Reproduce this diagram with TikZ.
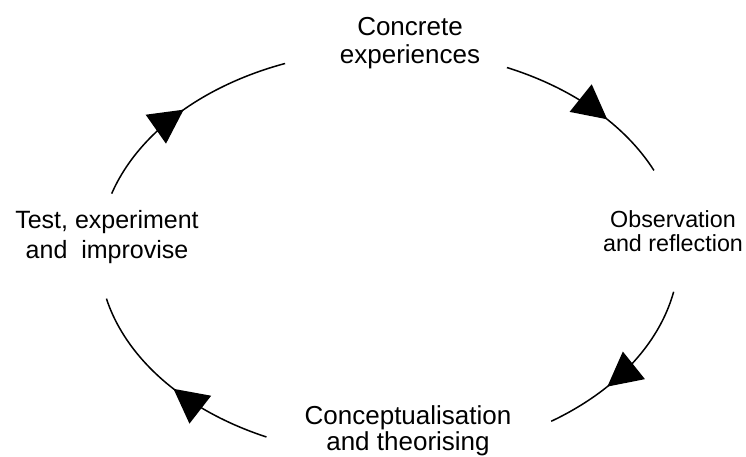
\documentclass[tikz,border=0pt]{standalone}
\usepackage{fontspec}
\setmainfont{Liberation Sans}
\usetikzlibrary{arrows.meta,decorations.markings,calc}
\begin{document}
\begin{tikzpicture}[x=1pt,y=1pt,
  stage/.style={align=center, inner sep=0pt},
  cycarc/.style={line width=1.5pt, black},
  flowtip/.style={postaction={decorate},
    decoration={markings,
      mark=at position #1 with {\arrow{Triangle[length=34pt,width=35pt]}}}}]
\useasboundingbox (0,0) rectangle (746,456);

% the four stages of the learning cycle
\node[stage, font=\fontsize{26}{28.5}\selectfont] (concrete) at (410,412.8) {Concrete\\experiences};
\node[stage, font=\fontsize{23.3}{23.5}\selectfont] (observe) at (673,225) {Observation\\and reflection};
\node[stage, font=\fontsize{26}{26}\selectfont] (concept) at (408,25) {Conceptualisation\\and theorising};
\node[stage, font=\fontsize{25}{30}\selectfont] (test) at (107,219.4) {Test, experiment\\and\ \ improvise};

% the cycle runs round one ellipse, split into four arcs
\coordinate (ctr) at (389,203);

\draw[cycarc, flowtip=0.62] ($(ctr)+(66:290pt and 203pt)$)
  arc[start angle=66, end angle=24, x radius=290pt, y radius=203pt];
\draw[cycarc, flowtip=0.64] ($(ctr)+(-11:290pt and 203pt)$)
  arc[start angle=-11, end angle=-56, x radius=290pt, y radius=203pt];
\draw[cycarc, flowtip=0.48] ($(ctr)+(245:290pt and 203pt)$)
  arc[start angle=245, end angle=193, x radius=290pt, y radius=203pt];
\draw[cycarc, flowtip=0.5] ($(ctr)+(163:290pt and 203pt)$)
  arc[start angle=163, end angle=111, x radius=290pt, y radius=203pt];
\end{tikzpicture}
\end{document}
